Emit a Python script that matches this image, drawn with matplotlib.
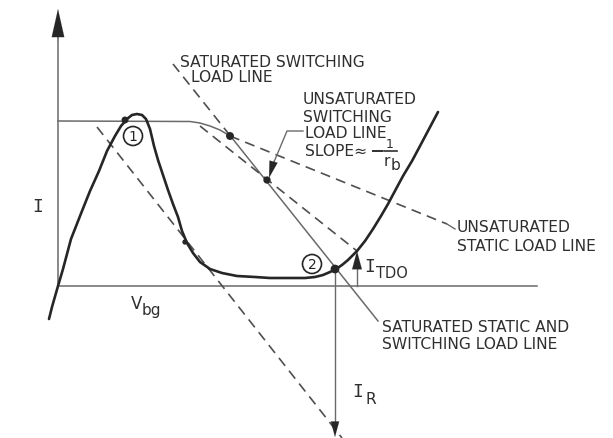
import matplotlib
matplotlib.use("Agg")
import matplotlib.pyplot as plt
from matplotlib.patches import Circle

# Tunnel-diode characteristic (V, I) in drawing units, origin at the axis crossing
diode_v = [-9, -6, 0, 5, 13, 24, 32, 41, 49, 57, 63, 69, 74, 79, 84, 88, 92, 96,
           100, 105, 110, 115, 120, 124, 129, 135, 142, 152, 164, 179, 197, 212,
           232, 247, 257, 265, 272, 278, 284, 290, 299, 307, 315, 323, 330, 338,
           345, 354, 362, 371, 380]
diode_i = [-33, -21, 0, 17, 47, 75, 95, 115, 135, 150, 160, 167, 171, 172, 171,
           167, 157, 140, 126, 111, 96, 82, 69, 55, 43, 33, 24, 17, 13, 10, 9, 8,
           8, 8, 9, 11, 14, 17, 21, 26, 35, 45, 57, 70, 82, 97, 110, 125, 140,
           157, 174]

# Transistor characteristic: flat current, bending into saturation
trans_v = [0, 132, 142, 152, 162, 172]
trans_i = [165, 164.5, 163, 160, 156, 150]

# Load lines (end points)
sat_switch_v, sat_switch_i = [115, 172], [222, 150.5]      # dashed part
sat_static_v, sat_static_i = [172, 320], [150.5, -35]      # solid part
unsat_switch_v, unsat_switch_i = [142, 299], [160, 35]
unsat_static_v, unsat_static_i = [172, 389], [150, 62]
left_line_v, left_line_i = [39, 284], [159, -152]

# Operating points marked on the curves
dots_v = [67, 172, 209, 277, 127]
dots_i = [166, 150, 106, 17, 44]

# Current markers
i_tdo_v, i_tdo_i = 299, 35
i_r_v = 277

ink = "#262626"
thin = "#6a6a6a"
dash_c = "#4f4f4f"
txt = "#2f2f2f"

fig = plt.figure(figsize=(6.13, 4.39), dpi=100)
ax = fig.add_axes([0, 0, 1, 1])
ax.set_xlim(-58, 555)
ax.set_ylim(-152, 287)
ax.axis("off")

# Axes of the diagram
ax.plot([0, 0], [0, 255], color=thin, lw=1.1)
ax.plot([0, 479], [0, 0], color=thin, lw=1.1)
ax.annotate("", xy=(0, 277), xytext=(0, 245),
            arrowprops=dict(arrowstyle="-|>,head_length=2.0,head_width=0.45",
                            color=ink, lw=0.1, shrinkA=0, shrinkB=0))

# Transistor curve and load lines
ax.plot(trans_v, trans_i, color=thin, lw=1.1)
ax.plot(sat_switch_v, sat_switch_i, color=dash_c, lw=1.2, ls=(0, (6, 3.8)))
ax.plot(sat_static_v, sat_static_i, color=thin, lw=1.1)
ax.plot(unsat_switch_v, unsat_switch_i, color=dash_c, lw=1.2, ls=(0, (6, 3.8)))
ax.plot(unsat_static_v, unsat_static_i, color=dash_c, lw=1.2, ls=(0, (6, 3.8)))
ax.plot([389, 397], [62, 57], color=thin, lw=1.0)
ax.plot(left_line_v, left_line_i, color=dash_c, lw=1.2, ls=(0, (6, 3.8)))

# Tunnel-diode curve
ax.plot(diode_v, diode_i, color=ink, lw=1.9, solid_capstyle="round",
        solid_joinstyle="round")

ax.scatter(dots_v, dots_i, s=[16, 22, 18, 28, 8], color=ink, zorder=5)

# I_TDO and I_R arrows
ax.plot([i_tdo_v, i_tdo_v], [0, 20], color=thin, lw=1.0)
ax.annotate("", xy=(i_tdo_v, i_tdo_i), xytext=(i_tdo_v, 17),
            arrowprops=dict(arrowstyle="-|>,head_length=1.3,head_width=0.35",
                            color=ink, lw=0.1, shrinkA=0, shrinkB=0))
ax.plot([i_r_v, i_r_v], [17, -137], color=thin, lw=1.0)
ax.annotate("", xy=(i_r_v, -151), xytext=(i_r_v, -135),
            arrowprops=dict(arrowstyle="-|>,head_length=1.1,head_width=0.3",
                            color=ink, lw=0.1, shrinkA=0, shrinkB=0))

# Leader with arrow to the unsaturated switching load line
ax.plot([245, 229, 216], [155, 155, 124], color=thin, lw=1.0)
ax.annotate("", xy=(211, 108), xytext=(216, 126),
            arrowprops=dict(arrowstyle="-|>,head_length=1.2,head_width=0.3",
                            color=ink, lw=0.1, shrinkA=0, shrinkB=0))

# Circled operating-point numbers
for cx, cy, s in [(75, 150, "1"), (254, 22, "2")]:
    ax.add_patch(Circle((cx, cy), 9.5, fill=False, ec=ink, lw=1.2))
    ax.text(cx, cy, s, ha="center", va="center", fontsize=10, color=ink,
            family="DejaVu Sans")

fs = 11.2
kw = dict(color=txt, fontsize=fs, family="DejaVu Sans", va="center", ha="left")
ax.text(122, 225, "SATURATED SWITCHING", **kw)
ax.text(133, 210, "LOAD LINE", **kw)
ax.text(245, 188, "UNSATURATED", **kw)
ax.text(245, 169, "SWITCHING", **kw)
ax.text(247, 154, "LOAD LINE", **kw)
ax.text(247, 136, "SLOPE≈", **kw)
ax.plot([315, 324], [135, 135], color=txt, lw=1.4)
ax.text(332, 143, "1", ha="center", va="center", color=txt, fontsize=9,
        family="DejaVu Sans")
ax.plot([326, 339], [135, 135], color=txt, lw=1.2)
ax.text(329, 126, "r", ha="center", va="center", color=txt, fontsize=fs,
        family="DejaVu Sans")
ax.text(338, 121, "b", ha="center", va="center", color=txt, fontsize=fs,
        family="DejaVu Sans")
ax.text(399, 60, "UNSATURATED", **kw)
ax.text(399, 40, "STATIC LOAD LINE", **kw)
ax.text(324, -40, "SATURATED STATIC AND", **kw)
ax.text(324, -58, "SWITCHING LOAD LINE", **kw)

# Axis and current labels
mono = dict(color=txt, family="DejaVu Sans Mono", va="center", ha="center")
ax.text(-20, 80, "I", fontsize=13, **mono)
ax.text(79, -17, "V", fontsize=12, color=txt, family="DejaVu Sans",
        va="center", ha="center")
ax.text(93, -24, "bg", fontsize=11, color=txt, family="DejaVu Sans",
        va="center", ha="center")
ax.text(312, 20, "I", fontsize=13, **mono)
ax.text(334, 14, "TDO", fontsize=10.5, color=txt, family="DejaVu Sans",
        va="center", ha="center")
ax.text(300, -105, "I", fontsize=13, **mono)
ax.text(313, -113, "R", fontsize=11, color=txt, family="DejaVu Sans",
        va="center", ha="center")

fig.savefig("out.png", dpi=100, facecolor="white")
